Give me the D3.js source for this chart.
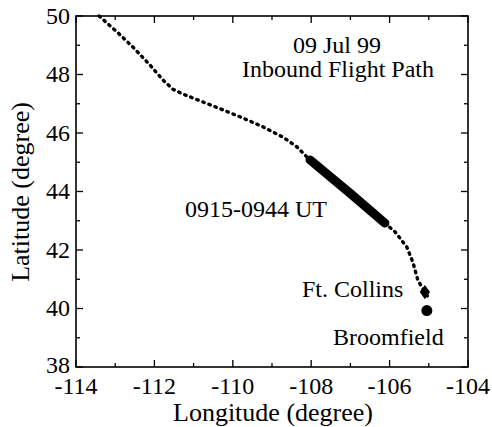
<!DOCTYPE html>
<html><head><meta charset="utf-8">
<script src="https://cdn.jsdelivr.net/npm/d3@7"></script>
<style>
html,body{margin:0;padding:0;background:#fff;}
</style></head>
<body><svg id="c" width="492" height="427"></svg>
<script>
// Flight path (dotted), longitude / latitude
const pathLon = [-113.41,-112.95,-112.55,-112.11,-111.78,-111.53,-111.27,-110.76,-110.25,-109.74,-109.23,-108.72,-108.36,-108.11,-108.03,-107.0,-106.12,-105.86,-105.56,-105.40,-105.28,-105.10,-104.99];
const pathLat = [50.0,49.45,48.94,48.32,47.81,47.50,47.33,47.06,46.79,46.51,46.21,45.86,45.52,45.18,45.08,43.93,42.92,42.62,42.10,41.56,40.97,40.56,40.34];
// Measurement segment 0915-0944 UT
const segLon = [-108.03,-107.0,-106.12];
const segLat = [45.08,43.93,42.92];
// Sites
const siteNames = ["Ft. Collins","Broomfield"];
const siteLon = [-105.10,-105.05];
const siteLat = [40.56,39.93];
// Axes
const xTicks = [-114,-112,-110,-108,-106,-104];
const yTicks = [38,40,42,44,46,48,50];
const xMinor = d3.range(-114,-103,1);
const yMinor = d3.range(38,51,1);

const FONT = "Liberation Serif, Times New Roman, Times, serif";
const L=76,R=468,T=16,B=367;
const x=d3.scaleLinear().domain([-114,-104]).range([L,R]);
const y=d3.scaleLinear().domain([38,50]).range([B,T]);
const svg=d3.select("#c").attr("font-family",FONT);

// ticks (inward) on all four sides
const g=svg.append("g").attr("stroke","#000").attr("stroke-width",1.3);
xMinor.forEach(v=>{const M=xTicks.includes(v),len=M?7:4;
  g.append("line").attr("x1",x(v)).attr("x2",x(v)).attr("y1",B).attr("y2",B-len);
  g.append("line").attr("x1",x(v)).attr("x2",x(v)).attr("y1",T).attr("y2",T+len);});
yMinor.forEach(v=>{const M=yTicks.includes(v),len=M?7:4;
  g.append("line").attr("y1",y(v)).attr("y2",y(v)).attr("x1",L).attr("x2",L+len);
  g.append("line").attr("y1",y(v)).attr("y2",y(v)).attr("x1",R).attr("x2",R-len);});
svg.append("rect").attr("x",L).attr("y",T).attr("width",R-L).attr("height",B-T)
  .attr("fill","none").attr("stroke","#000").attr("stroke-width",1.6);

function txt(sel){return sel.attr("font-family",FONT).attr("fill","#000");}

// tick labels
txt(svg.append("g").selectAll("text").data(xTicks).join("text"))
  .attr("x",d=>x(d)).attr("y",394).attr("text-anchor","middle")
  .attr("font-size",24).text(d=>String(d));
txt(svg.append("g").selectAll("text").data(yTicks).join("text"))
  .attr("x",70).attr("y",d=>y(d)).attr("dy",d=>d===38?"0.25em":"0.33em").attr("text-anchor","end")
  .attr("font-size",24).text(d=>d);

// axis titles
txt(svg.append("text")).attr("x",273).attr("y",421).attr("text-anchor","middle")
  .attr("font-size",26).text("Longitude (degree)");
txt(svg.append("text")).attr("transform","translate(29,192) rotate(-90)").attr("text-anchor","middle")
  .attr("font-size",26).text("Latitude (degree)");

// dotted path
const line=d3.line().x(d=>x(d[0])).y(d=>y(d[1]));
svg.append("path").datum(pathLon.map((v,i)=>[v,pathLat[i]]))
  .attr("d",line).attr("fill","none").attr("stroke","#000")
  .attr("stroke-width",3.4).attr("stroke-dasharray","1.6,4.9").attr("stroke-linecap","round");
// thick segment
svg.append("path").datum(segLon.map((v,i)=>[v,segLat[i]]))
  .attr("d",line).attr("fill","none").attr("stroke","#000")
  .attr("stroke-width",9).attr("stroke-linecap","round");

// site markers
svg.append("path").attr("d",d3.symbol(d3.symbolDiamond,70)())
  .attr("transform",`translate(${x(siteLon[0])},${y(siteLat[0])}) scale(1.15,0.9)`).attr("fill","#000");
svg.append("circle").attr("cx",x(siteLon[1])).attr("cy",y(siteLat[1])).attr("r",5.5).attr("fill","#000");

// annotations
txt(svg.append("text")).attr("x",337).attr("y",53).attr("text-anchor","middle").attr("font-size",24).text("09 Jul 99");
txt(svg.append("text")).attr("x",338).attr("y",77).attr("text-anchor","middle").attr("font-size",24).text("Inbound Flight Path");
txt(svg.append("text")).attr("x",185).attr("y",217).attr("font-size",24).text("0915-0944 UT");
txt(svg.append("text")).attr("x",302).attr("y",297).attr("font-size",24).text(siteNames[0]);
txt(svg.append("text")).attr("x",333).attr("y",345).attr("font-size",24).text(siteNames[1]);
</script></body></html>
